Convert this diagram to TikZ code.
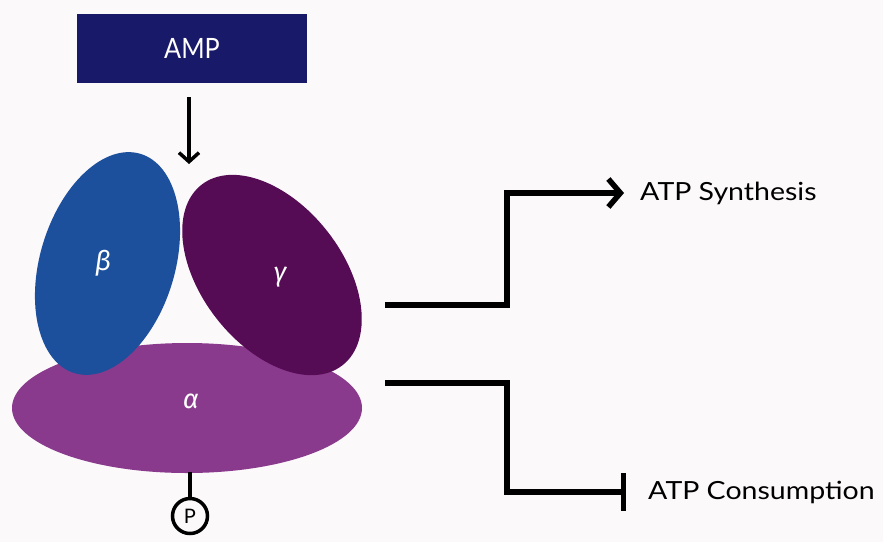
\documentclass[tikz,border=0pt]{standalone}
\usepackage{fontspec}
\setmainfont{Lato}
\newfontfamily\labfont[FakeStretch=1.14]{Lato}
\newfontfamily\ampfont[FakeStretch=0.9]{Lato}
\newfontfamily\grkfont{Fira Sans}
\usetikzlibrary{shapes.geometric,arrows.meta}
\definecolor{bgc}{HTML}{FCF9FB}
\definecolor{ampc}{HTML}{19196A}
\definecolor{betac}{HTML}{1C509C}
\definecolor{gammac}{HTML}{560B55}
\definecolor{alphac}{HTML}{8A3A8C}
\tikzset{
  sub/.style={ellipse, inner sep=0pt},
  greek/.style={text=white, inner sep=0pt, font=\grkfont\itshape\fontsize{27}{27}\selectfont},
  conn/.style={line width=5.5pt, line join=miter},
  lab/.style={anchor=west, inner sep=0pt, font=\labfont\fontsize{25}{28}\selectfont},
}
\begin{document}
\begin{tikzpicture}[x=1pt,y=-1pt]
\useasboundingbox (0,0) rectangle (883,542);
\fill[bgc] (0,0) rectangle (883,542);
% alpha
\node[sub, fill=alphac, minimum width=350pt, minimum height=130pt] (alpha) at (187,408) {};
\node[greek] (alphal) at (191,401) {α};
% beta
\node[sub, fill=betac, minimum width=135pt, minimum height=229pt, rotate=-16.7] (beta) at (107.5,263.5) {};
\node[greek] (betal) at (103,263) {β};
% gamma
\node[sub, fill=gammac, minimum width=141pt, minimum height=229pt, rotate=38] (gamma) at (272,275) {};
\node[greek] (gammal) at (280,277) {γ};
% AMP
\node[fill=ampc, minimum width=230pt, minimum height=69pt, inner sep=0pt, text=white,
      font=\ampfont\fontsize{28}{28}\selectfont] (amp) at (192,48.5) {AMP};
\coordinate (ampstart) at (189,97);
\coordinate (ampend) at (189,164);
\draw[line width=3.5pt, -{Straight Barb[length=9pt,width=20pt]}] (ampstart) -- (ampend);
% phosphate
\node[circle, draw, line width=3.5pt, minimum size=35pt, inner sep=0pt, font=\fontsize{20}{20}\selectfont] (p) at (190,516) {P};
\coordinate (pstem) at (190,472);
\draw[line width=3.5pt] (pstem) -- (p.north);
% outputs
\node[lab] (syn) at (640,193) {ATP Synthesis};
\node[lab] (cons) at (648,492) {ATP Consumption};
\coordinate (s1) at (385,305);
\coordinate (s2) at (385,383);
\draw[conn, -{Straight Barb[length=12pt,width=28pt]}] (s1) -- (507,305) -- (507,193) -- ([xshift=-16pt]syn.west);
\draw[conn, -{Bar[width=38pt,line width=5.5pt]}] (s2) -- (507,383) -- (507,492) -- ([xshift=-22pt]cons.west);
\end{tikzpicture}
\end{document}
